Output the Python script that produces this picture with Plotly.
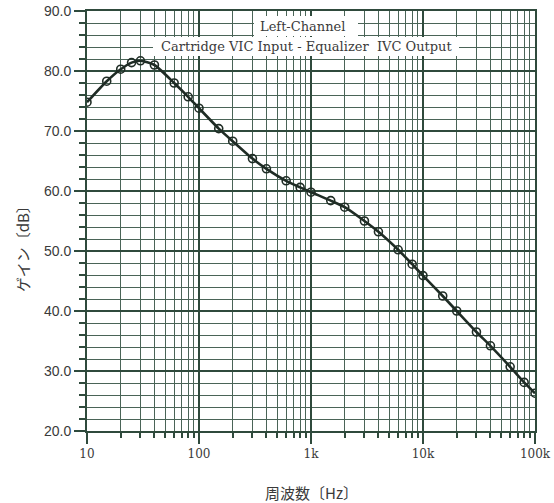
import plotly.graph_objects as go

# Measured frequency response, left channel
freq_hz = [10, 15, 20, 25, 30, 40, 60, 80, 100, 150, 200, 300, 400, 600, 800,
           1000, 1500, 2000, 3000, 4000, 6000, 8000, 10000, 15000, 20000,
           30000, 40000, 60000, 80000, 100000]
gain_db = [74.8, 78.3, 80.3, 81.4, 81.7, 81.0, 78.0, 75.7, 73.8, 70.4, 68.3,
           65.4, 63.7, 61.7, 60.6, 59.8, 58.4, 57.3, 55.0, 53.2, 50.2, 47.8,
           45.9, 42.5, 40.0, 36.5, 34.2, 30.7, 28.1, 26.3]

x_tick_vals = [10, 100, 1000, 10000, 100000]
x_tick_text = ["10", "100", "1k", "10k", "100k"]
x_minor_vals = [m * d for d in (10, 100, 1000, 10000) for m in range(2, 10)]

title_line1 = "Left-Channel"
title_line2 = "Cartridge VIC Input - Equalizer  IVC Output"
x_title = "周波数〔Hz〕"
y_title = "ゲイン〔dB〕"

GRID = "#2f4a3c"
GRID_MINOR = "#4a6457"
INK = "#1f2c25"
TEXT = "#3a3a3a"

W, H = 554, 503
L, R, T, B = 87, 19, 11, 72
pw, ph = W - L - R, H - T - B


def px_x(p):
    return (p - L) / pw


def px_y(p):
    return (H - B - p) / ph


def label(text, x, y, font, angle=0):
    fig.add_annotation(text=text, xref="paper", yref="paper",
                       x=px_x(x), y=px_y(y), xanchor="center", yanchor="middle",
                       showarrow=False, textangle=angle, font=font)


fig = go.Figure()
fig.add_trace(go.Scatter(
    x=freq_hz, y=gain_db, mode="lines+markers",
    line=dict(color=INK, width=2.6, shape="spline", smoothing=0.6),
    marker=dict(symbol="circle-open", size=8, color=INK, line=dict(width=1.6, color=INK)),
    showlegend=False,
))

# white label boxes over the grid
for x0, x1, y0, y1 in [(254, 358, 16, 36), (153, 459, 37, 56)]:
    fig.add_shape(type="rect", xref="paper", yref="paper",
                  x0=px_x(x0), x1=px_x(x1), y0=px_y(y1), y1=px_y(y0),
                  fillcolor="white", line=dict(width=0), layer="above")

serif = dict(family="DejaVu Serif", size=13, color=TEXT)
label(title_line1, 302, 27, serif)
label(title_line2, 306, 46, serif)
label(x_title, 311, 493, dict(family="Noto Sans CJK JP", size=15, color=TEXT))
label(y_title, 22, 245, dict(family="Noto Sans CJK JP", size=15, color=TEXT), angle=-90)

fig.update_xaxes(
    type="log", range=[1, 5], automargin=False,
    tickmode="array", tickvals=x_tick_vals, ticktext=x_tick_text,
    ticks="outside", ticklen=11, tickwidth=2, tickcolor=GRID,
    showgrid=True, gridcolor=GRID, gridwidth=2,
    showline=True, linecolor=GRID, linewidth=2, mirror=True,
    tickfont=dict(family="DejaVu Serif", size=12, color=TEXT),
    minor=dict(tickmode="array", tickvals=x_minor_vals, ticks="outside",
               ticklen=5, tickwidth=1.5, tickcolor=GRID,
               showgrid=True, gridcolor=GRID_MINOR, gridwidth=1),
    zeroline=False,
)
fig.update_yaxes(
    range=[20, 90], dtick=10, tick0=20, tickformat=".1f", automargin=False,
    ticks="outside", ticklen=11, tickwidth=2, tickcolor=GRID,
    showgrid=True, gridcolor=GRID, gridwidth=2,
    showline=True, linecolor=GRID, linewidth=2, mirror=True,
    tickfont=dict(family="Liberation Sans", size=14, color=TEXT),
    minor=dict(dtick=2, ticks="outside", ticklen=6, tickwidth=1.5,
               tickcolor=GRID, showgrid=True, gridcolor=GRID_MINOR, gridwidth=1),
    zeroline=False,
)

fig.update_layout(
    width=W, height=H,
    margin=dict(l=L, r=R, t=T, b=B),
    paper_bgcolor="white", plot_bgcolor="white",
)

fig.write_html("out.html")
